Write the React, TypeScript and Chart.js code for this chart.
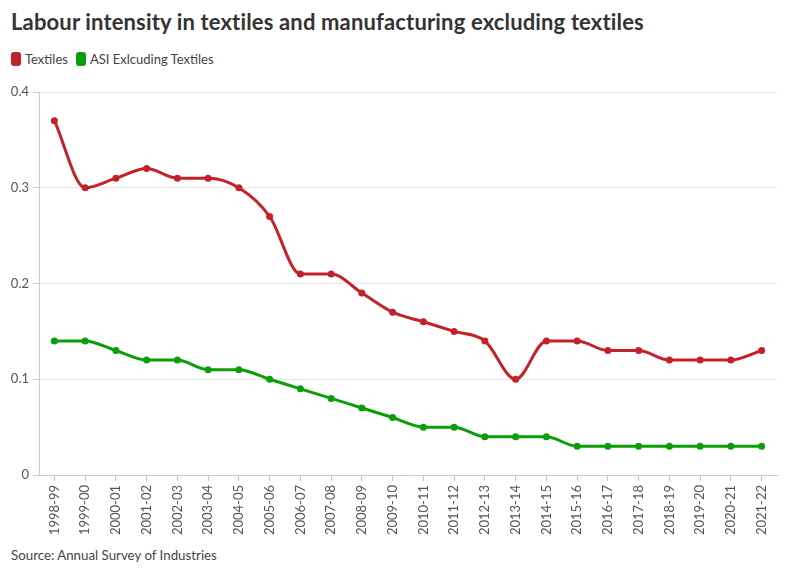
import React, { useEffect, useRef } from "react";
import { Chart, registerables } from "chart.js";

Chart.register(...registerables);

const categories = [
  "1998-99", "1999-00", "2000-01", "2001-02", "2002-03", "2003-04", "2004-05", "2005-06",
  "2006-07", "2007-08", "2008-09", "2009-10", "2010-11", "2011-12", "2012-13", "2013-14",
  "2014-15", "2015-16", "2016-17", "2017-18", "2018-19", "2019-20", "2020-21", "2021-22",
];
const textiles = [
  0.37, 0.30, 0.31, 0.32, 0.31, 0.31, 0.30, 0.27, 0.21, 0.21, 0.19, 0.17,
  0.16, 0.15, 0.14, 0.10, 0.14, 0.14, 0.13, 0.13, 0.12, 0.12, 0.12, 0.13,
];
const asiExTextiles = [
  0.14, 0.14, 0.13, 0.12, 0.12, 0.11, 0.11, 0.10, 0.09, 0.08, 0.07, 0.06,
  0.05, 0.05, 0.04, 0.04, 0.04, 0.03, 0.03, 0.03, 0.03, 0.03, 0.03, 0.03,
];
const yTicks = [0, 0.1, 0.2, 0.3, 0.4];

const RED = "#c4222a";
const GREEN = "#0b9e0b";
const FONT = "Lato, 'Noto Sans', sans-serif";

export default function App() {
  const ref = useRef<HTMLCanvasElement>(null);

  useEffect(() => {
    const canvas = ref.current;
    if (!canvas) return;
    const chart = new Chart(canvas, {
      type: "line",
      data: {
        labels: categories,
        datasets: [
          {
            label: "Textiles",
            data: textiles,
            borderColor: RED,
            backgroundColor: RED,
            borderWidth: 3,
            pointRadius: 3.5,
            pointBackgroundColor: RED,
            pointBorderWidth: 0,
            cubicInterpolationMode: "monotone",
          },
          {
            label: "ASI Exlcuding Textiles",
            data: asiExTextiles,
            borderColor: GREEN,
            backgroundColor: GREEN,
            borderWidth: 3,
            pointRadius: 3.5,
            pointBackgroundColor: GREEN,
            pointBorderWidth: 0,
            cubicInterpolationMode: "monotone",
          },
        ],
      },
      options: {
        animation: false,
        responsive: false,
        maintainAspectRatio: false,
        layout: { padding: { top: 12, right: 19, bottom: 0, left: 0 } },
        plugins: {
          legend: { display: false },
          title: { display: false },
          tooltip: { enabled: false },
        },
        scales: {
          x: {
            type: "category",
            offset: true,
            grid: {
              display: true,
              drawOnChartArea: false,
              drawTicks: true,
              tickLength: 6,
              color: "#c8c8c8",
            },
            border: { display: true, color: "#c8c8c8", width: 1 },
            ticks: {
              color: "#555",
              font: { family: FONT, size: 13 },
              minRotation: 90,
              maxRotation: 90,
              autoSkip: false,
              padding: 4,
            },
            afterFit: (s: any) => {
              s.height = 65;
            },
          },
          y: {
            min: 0,
            max: 0.4,
            afterBuildTicks: (s: any) => {
              s.ticks = yTicks.map((v) => ({ value: v }));
            },
            grid: {
              color: "#e6e6e6",
              drawTicks: true,
              tickLength: 6,
              tickColor: "#c8c8c8",
            },
            border: { display: true, color: "#c8c8c8", width: 1 },
            ticks: {
              color: "#555",
              font: { family: FONT, size: 13 },
              padding: 4,
              callback: (v: any) => String(Number(v)),
            },
            afterFit: (s: any) => {
              s.width = 39;
            },
          },
        },
      },
    });
    return () => chart.destroy();
  }, []);

  const legendItem = (color: string, label: string) => (
    <span style={{ display: "inline-flex", alignItems: "center", marginRight: 8 }}>
      <span
        style={{
          display: "inline-block",
          width: 10,
          height: 14,
          borderRadius: 3,
          background: color,
          marginRight: 4,
        }}
      />
      <span>{label}</span>
    </span>
  );

  return (
    <div
      style={{
        position: "relative",
        width: 796,
        height: 575,
        margin: -8,
        background: "#fff",
        fontFamily: FONT,
        overflow: "hidden",
      }}
    >
      <div
        style={{
          position: "absolute",
          left: 11,
          top: 8,
          fontSize: 22,
          letterSpacing: 0.15,
          fontWeight: 700,
          color: "#333",
          whiteSpace: "nowrap",
        }}
      >
        Labour intensity in textiles and manufacturing excluding textiles
      </div>
      <div
        style={{
          position: "absolute",
          left: 11,
          top: 51,
          fontSize: 13,
          color: "#444",
          display: "flex",
          whiteSpace: "nowrap",
        }}
      >
        {legendItem(RED, "Textiles")}
        {legendItem(GREEN, "ASI Exlcuding Textiles")}
      </div>
      <canvas
        ref={ref}
        width={796}
        height={460}
        style={{ position: "absolute", left: 0, top: 80, width: 796, height: 460 }}
      />
      <div
        style={{
          position: "absolute",
          left: 11,
          top: 547,
          fontSize: 13.3,
          color: "#444",
          whiteSpace: "nowrap",
        }}
      >
        Source: Annual Survey of Industries
      </div>
    </div>
  );
}
